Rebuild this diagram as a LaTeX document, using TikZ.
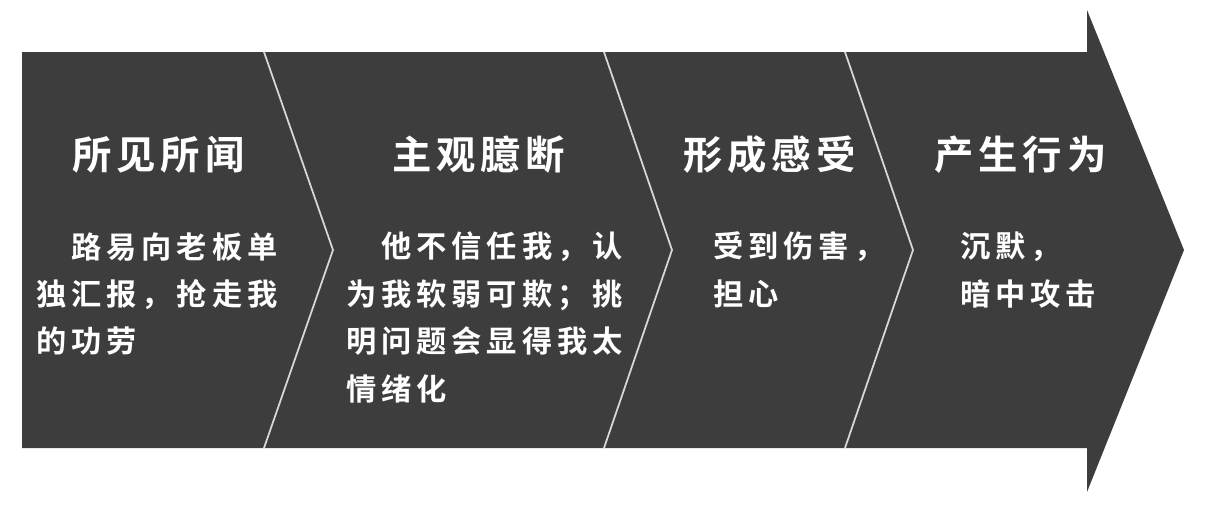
\documentclass[tikz,border=0pt]{standalone}
\usepackage{fontspec}
\newfontfamily\cjk{Noto Sans CJK SC}[BoldFont={Noto Sans CJK SC Bold}]
\newfontfamily\cjktitle{Noto Sans CJK SC}[BoldFont={Noto Sans CJK SC Bold},LetterSpace=12]
\newfontfamily\cjkbody{Noto Sans CJK SC}[BoldFont={Noto Sans CJK SC Bold},LetterSpace=16]
\definecolor{slate}{HTML}{3D3D3D}
\definecolor{seam}{HTML}{D8D8D8}
\tikzset{title/.style={anchor=west,inner sep=0pt,text=white,font=\cjktitle\bfseries\fontsize{11.2pt}{13pt}\selectfont}}
\tikzset{body/.style={anchor=base west,inner sep=0pt,text=white,align=left,font=\cjkbody\bfseries\fontsize{8.6pt}{13.5pt}\selectfont}}

\begin{document}
\begin{tikzpicture}[x=0.01cm,y=-0.01cm]
  \useasboundingbox (0,0) rectangle (1214,509);
  \fill[slate] (22,52) -- (1087,52) -- (1087,10) -- (1184,250) -- (1087,492) -- (1087,448) -- (22,448) -- cycle;
  \coordinate (s1) at (264,52);
  \coordinate (s2) at (604,52);
  \coordinate (s3) at (845,52);
  \draw[seam,line width=0.5pt] (s1) -- (333,250) -- (264,448);
  \draw[seam,line width=0.5pt] (s2) -- (672,250) -- (604,448);
  \draw[seam,line width=0.5pt] (s3) -- (913,250) -- (845,448);
  \node[title] (t1) at (72,155) {所见所闻};
  \node[title] (t2) at (392,155) {主观臆断};
  \node[title] (t3) at (683,155) {形成感受};
  \node[title] (t4) at (934,155) {产生行为};
  % base is the last line: 258 + 47.4 per extra line
  \node[body] (b1) at (36,353) {　路易向老板单\\独汇报，抢走我\\的功劳};
  \node[body] (b2) at (346,400) {　他不信任我，认\\为我软弱可欺；挑\\明问题会显得我太\\情绪化};
  \node[body] (b3) at (713,305) {受到伤害，\\担心};
  \node[body] (b4) at (960,305) {沉默，\\暗中攻击};
\end{tikzpicture}
\end{document}
